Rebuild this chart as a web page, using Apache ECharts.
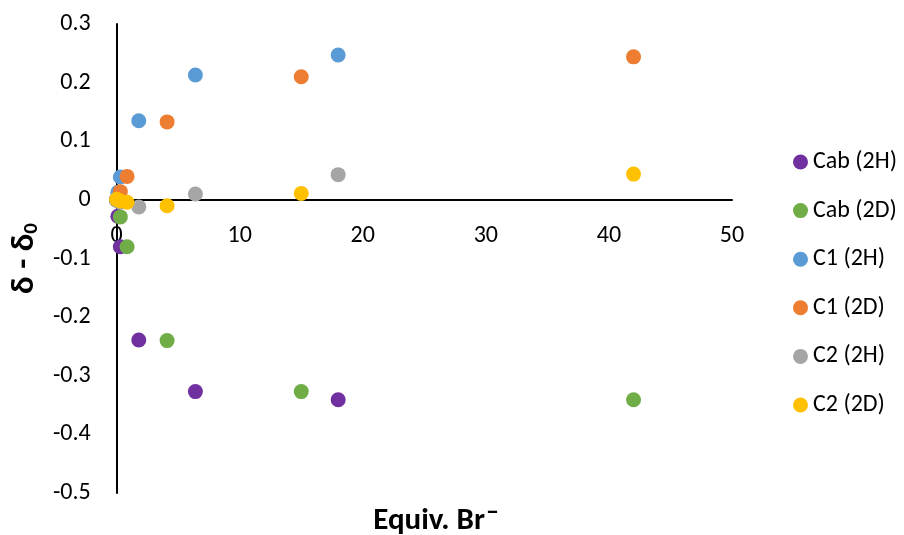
<!DOCTYPE html>
<html><head><meta charset="utf-8">
<script src="https://cdn.jsdelivr.net/npm/echarts@6/dist/echarts.min.js"></script>
<style>html,body{margin:0;padding:0;background:#fff}#c{width:904px;height:535px}</style>
</head><body><div id="c"></div>
<script>
const seriesNames = ['Cab (2H)', 'Cab (2D)', 'C1 (2H)', 'C1 (2D)', 'C2 (2H)', 'C2 (2D)'];
const colors = ['#7030A0', '#70AD47', '#5B9BD5', '#ED7D31', '#A5A5A5', '#FFC000'];
const xH = [0, 0.1, 0.3, 1.8, 6.4, 18];
const xD = [0, 0.3, 0.85, 4.1, 15, 42];
const cabH = [0, -0.028, -0.08, -0.239, -0.327, -0.341];
const cabD = [0, -0.029, -0.08, -0.24, -0.327, -0.341];
const c1H = [0, 0.013, 0.039, 0.135, 0.213, 0.247];
const c1D = [0, 0.014, 0.04, 0.133, 0.21, 0.244];
const c2H = [0, -0.002, -0.004, -0.012, 0.01, 0.043];
const c2D = [0.001, -0.002, -0.004, -0.01, 0.011, 0.044];
const xTicks = [0, 10, 20, 30, 40, 50];
const yTicks = [-0.5, -0.4, -0.3, -0.2, -0.1, 0, 0.1, 0.2, 0.3];

const ys = [cabH, cabD, c1H, c1D, c2H, c2D];
const xs = [xH, xD, xH, xD, xH, xD];
const font = 'Carlito, Lato, sans-serif';

const gridTop = 24, gridH = 469;
const yMin = yTicks[0], yMax = yTicks[yTicks.length - 1];
const zeroOffset = -gridH * (0 - yMin) / (yMax - yMin);

const chart = echarts.init(document.getElementById('c'));
chart.setOption({
  animation: false,
  color: colors,
  graphic: [{
    type: 'text', x: 485, y: 521,
    style: {
      text: 'Equiv. Br', align: 'right', verticalAlign: 'middle',
      font: 'bold 31px ' + font, fill: '#000'
    }
  }, {
    type: 'text', x: 486, y: 512,
    style: {
      text: '\u2013', align: 'left', verticalAlign: 'middle',
      font: 'bold 26px ' + font, fill: '#000'
    }
  }],
  grid: { left: 116, top: gridTop, width: 616, height: gridH },
  legend: {
    orient: 'vertical', left: 788, top: 145, itemGap: 24.6,
    itemWidth: 15, itemHeight: 15, icon: 'circle',
    textStyle: { fontFamily: font, fontSize: 24, color: '#000' },
    data: seriesNames
  },
  xAxis: {
    type: 'value', min: xTicks[0], max: xTicks[xTicks.length - 1], interval: 10,
    position: 'bottom', offset: zeroOffset,
    axisLine: { onZero: false, lineStyle: { color: '#000', width: 2 } },
    axisTick: { show: false }, splitLine: { show: false },
    axisLabel: { fontFamily: font, fontSize: 24, color: '#000', margin: 24 }
  },
  yAxis: {
    type: 'value', min: yMin, max: yMax, interval: 0.1,
    name: '{a|δ - δ}{s|0}', nameLocation: 'middle', nameGap: 70, nameRotate: 90,
    nameTextStyle: {
      rich: {
        a: { fontFamily: font, fontSize: 33, fontWeight: 'bold', color: '#000' },
        s: { fontFamily: font, fontSize: 21, fontWeight: 'bold', color: '#000', verticalAlign: 'bottom', padding: [14, 0, 0, 0] }
      }
    },
    axisLine: { show: true, onZero: false, lineStyle: { color: '#000', width: 2 } },
    axisTick: { show: false }, splitLine: { show: false },
    axisLabel: { fontFamily: font, fontSize: 24, color: '#000', margin: 26,
      formatter: v => (Math.round(v * 10) / 10).toString() }
  },
  series: seriesNames.map((n, i) => ({
    name: n, type: 'scatter', symbolSize: 15,
    itemStyle: { color: colors[i], opacity: 1 },
    data: xs[i].map((x, j) => [x, ys[i][j]])
  }))
});
</script></body></html>
